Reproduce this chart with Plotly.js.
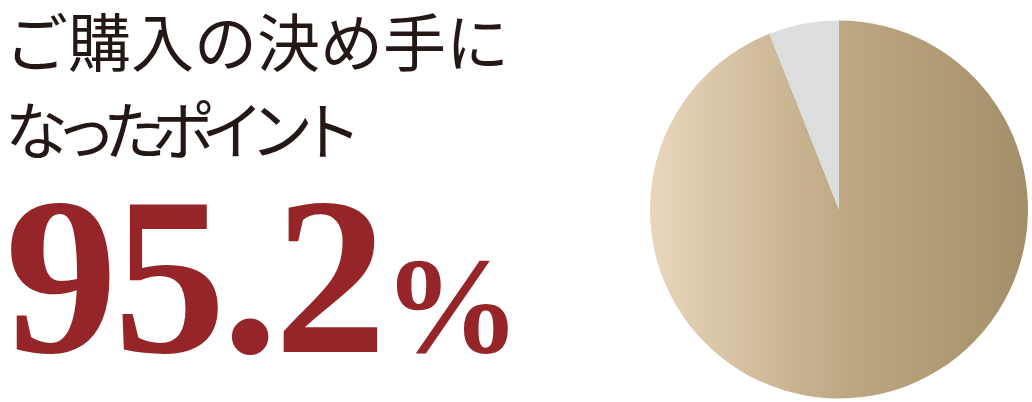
<!DOCTYPE html>
<html>
<head>
<meta charset="utf-8">
<script src="https://cdn.plot.ly/plotly-3.0.1.min.js"></script>
<style>
  html, body { margin: 0; padding: 0; background: #fff; }
  #myPlot { width: 1032px; height: 402px; }
</style>
</head>
<body>
<div id="myPlot"></div>
<script>
// pie values (big slice clockwise from 12 o'clock, gray slice closes back to the top)
const labels = ['決め手になった', 'その他'];
const values = [94, 6];
const colors = ['#bca985', '#dcdedd'];

// headline texts
const line1 = 'ご購入の決め手に';
const line2 = 'なったポイント';
const bigNumber = '95.2';
const unit = '%';

const data = [{
  type: 'pie',
  labels: labels,
  values: values,
  sort: false,
  direction: 'clockwise',
  rotation: 0,
  marker: { colors: colors, line: { width: 0 } },
  textinfo: 'none',
  hoverinfo: 'skip',
  domain: { x: [0.6298, 0.9961], y: [0.0087, 0.949] }
}];

const layout = {
  width: 1032,
  height: 402,
  margin: { l: 0, r: 0, t: 0, b: 0 },
  paper_bgcolor: '#ffffff',
  showlegend: false,
  annotations: [
    {
      text: line1, xref: 'paper', yref: 'paper', x: 3 / 1032, y: 1 - 38 / 402,
      xanchor: 'left', yanchor: 'middle', showarrow: false,
      font: { family: 'Noto Sans CJK JP', size: 63, color: '#231815' }
    },
    {
      text: '<span style="letter-spacing:-14px">' + line2 + '</span>', xref: 'paper', yref: 'paper', x: 3 / 1032, y: 1 - 126 / 402,
      xanchor: 'left', yanchor: 'middle', showarrow: false,
      font: { family: 'Noto Sans CJK JP', size: 63, color: '#231815' }
    },
    {
      text: '<span style="letter-spacing:-4px">' + bigNumber + '</span><span style="font-size:138px">' + unit + '</span>',
      xref: 'paper', yref: 'paper', x: 3 / 1032, y: 1 - 276 / 402,
      xanchor: 'left', yanchor: 'middle', showarrow: false,
      font: { family: 'Liberation Serif', size: 225, color: '#952529', weight: 'bold' }
    }
  ]
};

Plotly.newPlot('myPlot', data, layout, { staticPlot: true, displayModeBar: false }).then(function (gd) {
  // horizontal gradient on the big slice
  const svg = gd.querySelector('.main-svg');
  const ns = 'http://www.w3.org/2000/svg';
  let defs = svg.querySelector('defs');
  if (!defs) { defs = document.createElementNS(ns, 'defs'); svg.insertBefore(defs, svg.firstChild); }
  const grad = document.createElementNS(ns, 'linearGradient');
  grad.setAttribute('id', 'tanGrad');
  grad.setAttribute('x1', '0'); grad.setAttribute('x2', '1');
  grad.setAttribute('y1', '0'); grad.setAttribute('y2', '0');
  [['0', '#e9d7bd'], ['0.5', '#bfa985'], ['1', '#a38f67']].forEach(function (s) {
    const stop = document.createElementNS(ns, 'stop');
    stop.setAttribute('offset', s[0]);
    stop.setAttribute('stop-color', s[1]);
    grad.appendChild(stop);
  });
  defs.appendChild(grad);
  const big = values.indexOf(Math.max.apply(null, values));
  const slices = gd.querySelectorAll('g.slice path.surface');
  slices[big].style.fill = 'url(#tanGrad)';
});
</script>
</body>
</html>
